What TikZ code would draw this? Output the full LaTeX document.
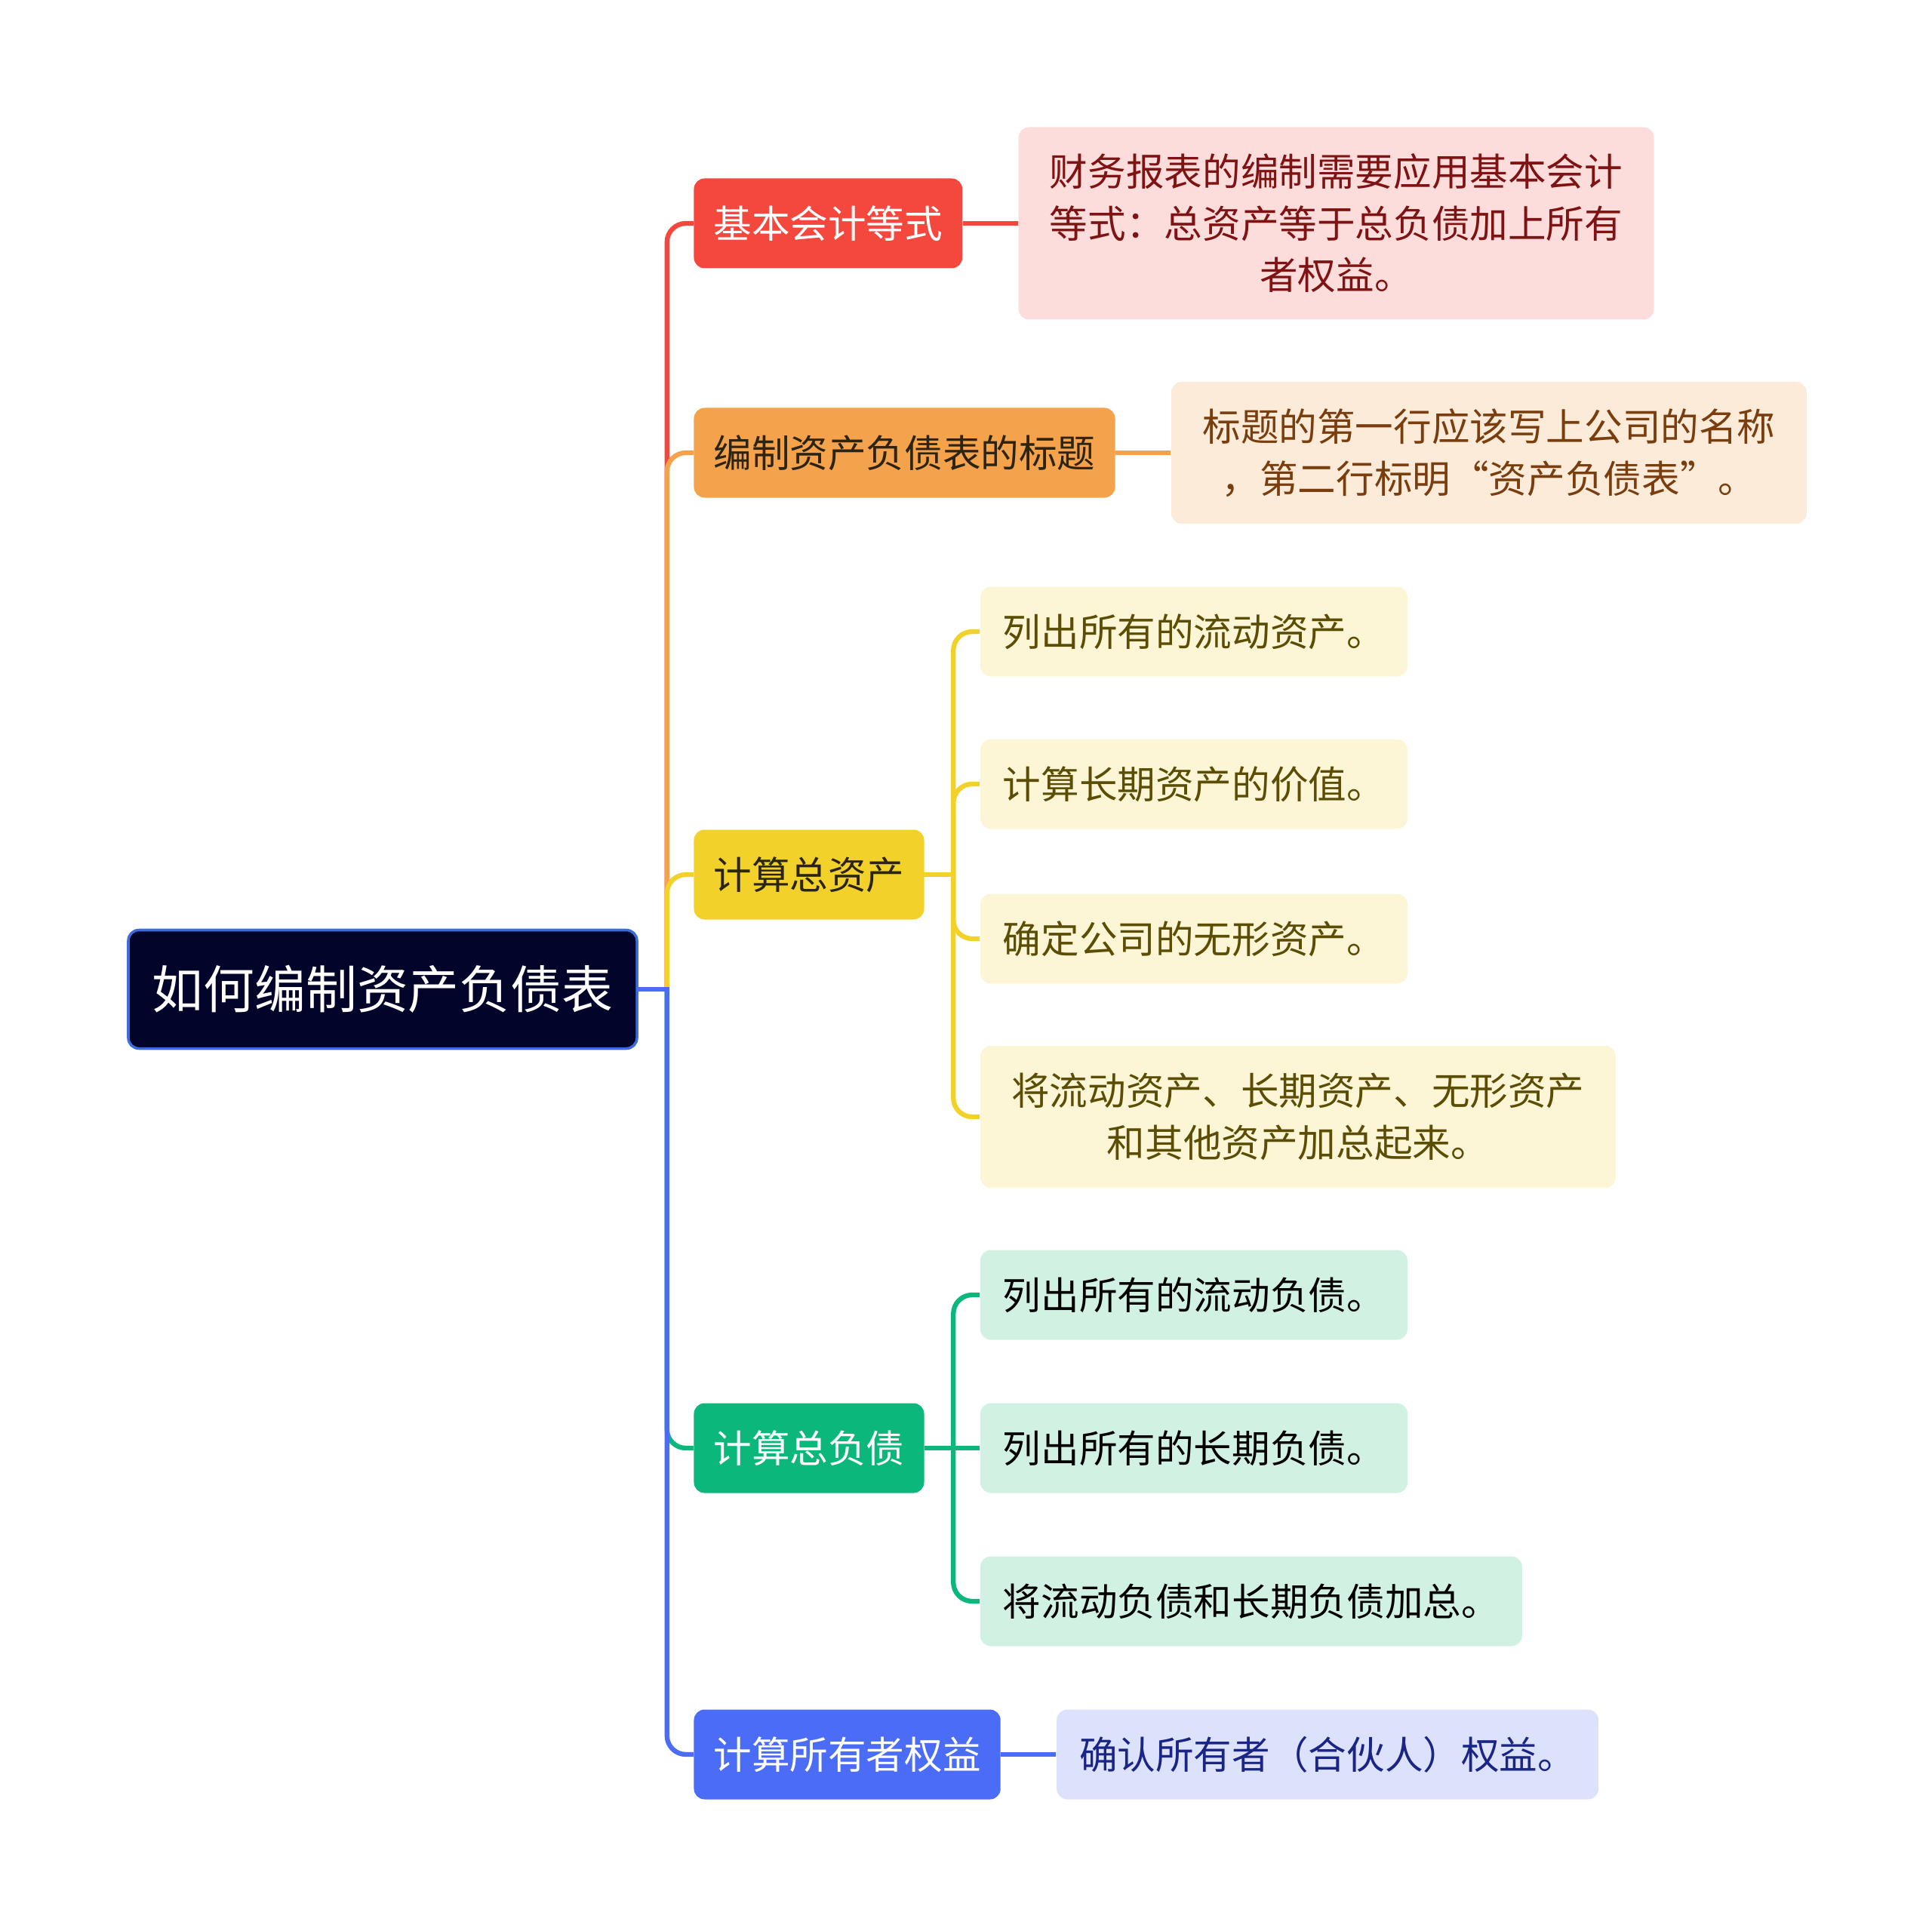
\documentclass[tikz,border=0pt]{standalone}
\usepackage{fontspec}
\setmainfont{Noto Sans CJK SC}
\usetikzlibrary{positioning}

\definecolor{rootFill}{HTML}{03042A}
\definecolor{rootEdge}{HTML}{3D6DDB}
\definecolor{cRed}{HTML}{F4473D}
\definecolor{cRedLight}{HTML}{FDDCDC}
\definecolor{cRedText}{HTML}{7F1212}
\definecolor{cOrange}{HTML}{F5A24D}
\definecolor{cOrangeLight}{HTML}{FDEBDA}
\definecolor{cOrangeText}{HTML}{7A3E0E}
\definecolor{cYellow}{HTML}{F1D12A}
\definecolor{cYellowLight}{HTML}{FCF6D6}
\definecolor{cYellowText}{HTML}{5C4D05}
\definecolor{cGreen}{HTML}{0BB77A}
\definecolor{cGreenLight}{HTML}{D1F2E3}
\definecolor{cBlue}{HTML}{4B6CF6}
\definecolor{cBlueLight}{HTML}{DCE2FC}
\definecolor{cBlueText}{HTML}{1A2585}
\definecolor{darkText}{HTML}{2B2410}

\begin{document}
\begin{tikzpicture}[
    node distance=0.73cm,
    root/.style={
        rectangle, draw=rootEdge, line width=1pt, fill=rootFill, rounded corners=4pt,
        minimum width=6.74cm, minimum height=1.57cm,
        text=white, font=\fontsize{19.3}{23}\selectfont
    },
    topic/.style={
        rectangle, rounded corners=4pt, inner xsep=0.26cm,
        minimum height=1.19cm, font=\fontsize{14.4}{19.5}\selectfont
    },
    note/.style={
        rectangle, rounded corners=4pt, inner xsep=0.30cm,
        minimum height=1.19cm, align=center, font=\fontsize{14.4}{19.5}\selectfont
    },
    wide/.style={minimum width=8.42cm, minimum height=1.88cm},
    link/.style={line width=1.8pt, rounded corners=0.25cm},
    stub/.style={line width=1.8pt, line cap=rect},
]
\useasboundingbox (0,0) rectangle (25.6,-25.55);

\node[root] (root) at (5.07,-13.11) {如何编制资产负债表};

\node[topic, fill=cRed, text=white, right=of root, yshift=10.15cm]      (equation) {基本会计等式};
\node[topic, fill=cOrange, text=darkText, right=of root, yshift=7.11cm]  (heading)  {编制资产负债表的标题};
\node[topic, fill=cYellow, text=darkText, right=of root, yshift=1.52cm]  (assets)   {计算总资产};
\node[topic, fill=cGreen, text=white, right=of root, yshift=-6.08cm]     (debts)    {计算总负债};
\node[topic, fill=cBlue, text=white, right=of root, yshift=-10.14cm]     (equity)   {计算所有者权益};

\node[note, wide, minimum height=2.55cm, fill=cRedLight, text=cRedText, right=of equation] (equationNote)
    {财务报表的编制需要应用基本会计\\等式：总资产等于总负债加上所有\\者权益。};
\node[note, wide, fill=cOrangeLight, text=cOrangeText, right=of heading] (headingNote)
    {标题的第一行应该写上公司的名称\\，第二行标明“资产负债表”。};

\node[note, fill=cYellowLight, text=cYellowText, right=of assets, yshift=3.22cm]        (assetsA) {列出所有的流动资产。};
\node[note, fill=cYellowLight, text=cYellowText, right=of assets, yshift=1.20cm]        (assetsB) {计算长期资产的价值。};
\node[note, fill=cYellowLight, text=cYellowText, right=of assets, yshift=-0.85cm]       (assetsC) {确定公司的无形资产。};
\node[note, wide, fill=cYellowLight, text=cYellowText, right=of assets, yshift=-3.21cm] (assetsD)
    {将流动资产、长期资产、无形资产\\和其他资产加总起来。};

\node[note, fill=cGreenLight, text=black, right=of debts, yshift=2.03cm]  (debtsA) {列出所有的流动负债。};
\node[note, fill=cGreenLight, text=black, right=of debts]                 (debtsB) {列出所有的长期负债。};
\node[note, fill=cGreenLight, text=black, right=of debts, yshift=-2.03cm] (debtsC) {将流动负债和长期负债加总。};

\node[note, fill=cBlueLight, text=cBlueText, right=of equity] (equityNote) {确认所有者（合伙人）权益。};

\coordinate[right=0.38cm of root.east]   (hub);
\coordinate[right=0.38cm of assets.east] (assetsHub);
\coordinate[right=0.38cm of debts.east]  (debtsHub);

\draw[link, cRed]    (hub) |- (equation.west);
\draw[link, cOrange] (hub) |- (heading.west);
\draw[link, cYellow] (hub) |- (assets.west);
\draw[link, cGreen]  (hub) |- (debts.west);
\draw[link, cBlue]   (hub) |- (equity.west);
\draw[stub, cBlue]   (root.east) -- (hub);

\draw[link, cRed]    (equation.east) -- (equationNote.west);
\draw[link, cOrange] (heading.east) -- (headingNote.west);
\draw[link, cBlue]   (equity.east) -- (equityNote.west);

\draw[link, cYellow] (assetsHub) |- (assetsA.west);
\draw[link, cYellow] (assetsHub) |- (assetsB.west);
\draw[link, cYellow] (assetsHub) |- (assetsC.west);
\draw[link, cYellow] (assetsHub) |- (assetsD.west);
\draw[stub, cYellow] (assets.east) -- (assetsHub);

\draw[link, cGreen] (debtsHub) |- (debtsA.west);
\draw[link, cGreen] (debtsHub) |- (debtsC.west);
\draw[link, cGreen] (debts.east) -- (debtsB.west);

\end{tikzpicture}
\end{document}
